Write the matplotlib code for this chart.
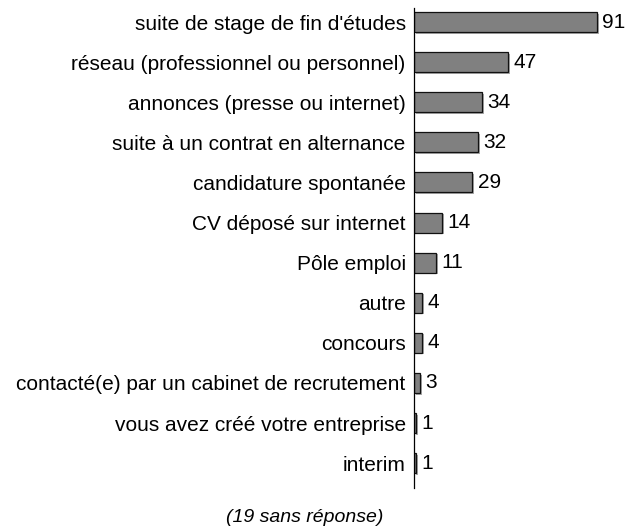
import matplotlib
matplotlib.use("Agg")
import matplotlib.pyplot as plt

plt.rcParams['font.family'] = ['Liberation Sans', 'DejaVu Sans']

categories = [
    "suite de stage de fin d'études",
    "réseau (professionnel ou personnel)",
    "annonces (presse ou internet)",
    "suite à un contrat en alternance",
    "candidature spontanée",
    "CV déposé sur internet",
    "Pôle emploi",
    "autre",
    "concours",
    "contacté(e) par un cabinet de recrutement",
    "vous avez créé votre entreprise",
    "interim",
]
counts = [91, 47, 34, 32, 29, 14, 11, 4, 4, 3, 1, 1]
note = "(19 sans réponse)"

fig = plt.figure(figsize=(6.26, 5.26), dpi=100)
ax = fig.add_axes([414 / 626, 1 - 488 / 526, 211 / 626, 480 / 526])

pos = list(range(len(categories)))
# soft drop shadow behind each bar
ax.barh([p + 0.04 for p in pos], counts, left=0.9, height=0.5,
        color='#a8a8a8', linewidth=0, zorder=1)
ax.barh(pos, counts, height=0.5, color='#808080', edgecolor='#111111',
        linewidth=0.9, zorder=2)

for y, v in zip(pos, counts):
    ax.text(v + 2.6, y, str(v), va='center', ha='left', fontsize=15)

ax.set_xlim(0, 105)
ax.set_ylim(len(categories) - 1 + 0.62, -0.35)
ax.set_yticks(pos)
ax.set_yticklabels(categories, fontsize=15)
ax.tick_params(axis='y', length=0, pad=6)
ax.set_xticks([])
for s in ['top', 'right', 'bottom']:
    ax.spines[s].set_visible(False)
ax.spines['left'].set_linewidth(0.9)
ax.spines['left'].set_zorder(3)

fig.text(305 / 626, 1 - 517 / 526, note, ha='center', va='center',
         fontsize=14, style='italic')

fig.savefig('out.png', dpi=100)
